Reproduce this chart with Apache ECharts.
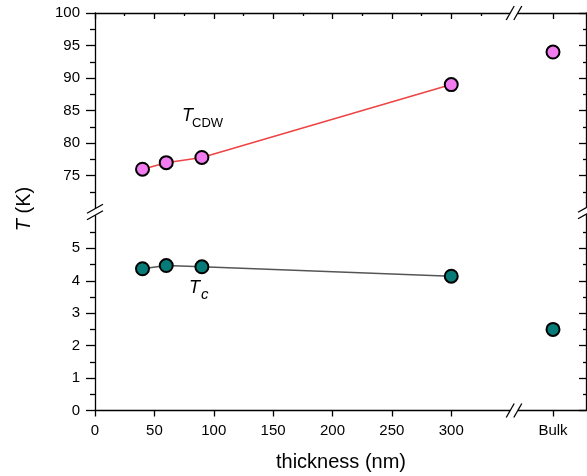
<!DOCTYPE html>
<html>
<head>
<meta charset="utf-8">
<script src="https://cdn.jsdelivr.net/npm/echarts@6/dist/echarts.min.js"></script>
<style>
  html, body { margin: 0; padding: 0; background: #fff; }
  #chart { width: 587px; height: 476px; }
</style>
</head>
<body>
<div id="chart"></div>
<script>
// Film thickness (nm) and transition temperatures (K)
const thickness = [40, 60, 90, 300];
const tCDW = [76.0, 77.0, 77.8, 89.0];
const tC = [4.37, 4.47, 4.43, 4.14];

// Bulk values, drawn on the separate segment after the x-axis break
const bulkLabel = 'Bulk';
const bulkPos = [0];
const bulkTCDW = [94.0];
const bulkTc = [2.5];

// Tick values
const xTickValues = [0, 50, 100, 150, 200, 250, 300];
const xMinorValues = [25, 75, 125, 175, 225, 275, 325];
const yUpperTicks = [75, 80, 85, 90, 95, 100];
const yUpperMinor = [72.5, 77.5, 82.5, 87.5, 92.5, 97.5];
const yLowerTicks = [0, 1, 2, 3, 4, 5];
const yLowerMinor = [0.5, 1.5, 2.5, 3.5, 4.5, 5.5];

// Axis ranges of the four panels
const xFilmRange = [0, 352];
const xBulkRange = [-40, 33];
const yUpperRange = [69.42, 100];
const yLowerRange = [0, 6.12];

// Panel layout in pixels
const L = 95, BX = 513, R = 586, T = 13, BY = 212, B = 410.5;
const FONT = '"Liberation Sans", Arial, sans-serif';
const INK = '#000';

function mkAxis(opt) {
  return {
    type: 'value',
    gridIndex: opt.grid,
    position: opt.position,
    min: opt.range[0],
    max: opt.range[1],
    splitLine: { show: false },
    axisLine: { show: !!opt.line, onZero: false, lineStyle: { color: INK, width: 1.3 } },
    axisTick: opt.ticks ? {
      show: true,
      inside: !!opt.inside,
      length: opt.tickLen,
      customValues: opt.ticks,
      lineStyle: { color: INK, width: 1.3 }
    } : { show: false },
    axisLabel: opt.labels ? {
      show: true,
      customValues: opt.labels,
      formatter: opt.formatter,
      color: INK,
      fontSize: 15,
      fontFamily: FONT,
      margin: opt.margin
    } : { show: false }
  };
}

const xAxis = [
  // film panel, upper: top frame with inward ticks
  mkAxis({ grid: 0, position: 'top', range: xFilmRange, line: true, ticks: xTickValues, tickLen: 6, inside: true }),
  mkAxis({ grid: 0, position: 'top', range: xFilmRange, ticks: xMinorValues, tickLen: 3, inside: true }),
  // film panel, lower: bottom axis with labels
  mkAxis({ grid: 1, position: 'bottom', range: xFilmRange, line: true, ticks: xTickValues, tickLen: 6,
           labels: xTickValues, margin: 13 }),
  // bulk panel, upper and lower
  mkAxis({ grid: 2, position: 'top', range: xBulkRange, line: true, ticks: bulkPos, tickLen: 6, inside: true }),
  mkAxis({ grid: 3, position: 'bottom', range: xBulkRange, line: true, ticks: bulkPos, tickLen: 6,
           labels: bulkPos, formatter: () => bulkLabel, margin: 13 })
];

const yAxis = [
  mkAxis({ grid: 0, position: 'left', range: yUpperRange, line: true, ticks: yUpperTicks, tickLen: 9,
           labels: yUpperTicks, margin: 15 }),
  mkAxis({ grid: 0, position: 'left', range: yUpperRange, ticks: yUpperMinor, tickLen: 5 }),
  mkAxis({ grid: 1, position: 'left', range: yLowerRange, line: true, ticks: yLowerTicks, tickLen: 9,
           labels: yLowerTicks, margin: 15 }),
  mkAxis({ grid: 1, position: 'left', range: yLowerRange, ticks: yLowerMinor, tickLen: 5 }),
  mkAxis({ grid: 2, position: 'right', range: yUpperRange, line: true, ticks: yUpperTicks, tickLen: 7, inside: true }),
  mkAxis({ grid: 2, position: 'right', range: yUpperRange, ticks: yUpperMinor, tickLen: 3, inside: true }),
  mkAxis({ grid: 3, position: 'right', range: yLowerRange, line: true, ticks: yLowerTicks, tickLen: 7, inside: true }),
  mkAxis({ grid: 3, position: 'right', range: yLowerRange, ticks: yLowerMinor, tickLen: 3, inside: true })
];

const marker = (fill) => ({ color: fill, borderColor: INK, borderWidth: 2, opacity: 1 });
const PINK = '#f07cf0';
const TEAL = '#077b78';

const series = [
  {
    name: 'T_CDW', type: 'line', xAxisIndex: 0, yAxisIndex: 0,
    data: thickness.map((t, i) => [t, tCDW[i]]),
    symbol: 'circle', symbolSize: 13,
    lineStyle: { color: '#ee4444', width: 1.6 },
    itemStyle: marker(PINK)
  },
  {
    name: 'T_c', type: 'line', xAxisIndex: 2, yAxisIndex: 2,
    data: thickness.map((t, i) => [t, tC[i]]),
    symbol: 'circle', symbolSize: 13,
    lineStyle: { color: '#555555', width: 1.6 },
    itemStyle: marker(TEAL)
  },
  {
    name: 'T_CDW bulk', type: 'scatter', xAxisIndex: 3, yAxisIndex: 4,
    data: bulkPos.map((p, i) => [p, bulkTCDW[i]]),
    symbol: 'circle', symbolSize: 13,
    itemStyle: marker(PINK)
  },
  {
    name: 'T_c bulk', type: 'scatter', xAxisIndex: 4, yAxisIndex: 6,
    data: bulkPos.map((p, i) => [p, bulkTc[i]]),
    symbol: 'circle', symbolSize: 13,
    itemStyle: marker(TEAL)
  }
];

// "//" break symbols on the frame
function hBreak(cx, cy) {
  const s = 3.8, w = 4, h = 7;
  return [
    { type: 'rect', z: 100, shape: { x: cx - s, y: cy - 2, width: 2 * s, height: 4 }, style: { fill: '#fff' } },
    { type: 'line', z: 101, shape: { x1: cx - s - w, y1: cy + h, x2: cx - s + w, y2: cy - h }, style: { stroke: INK, lineWidth: 1.3 } },
    { type: 'line', z: 101, shape: { x1: cx + s - w, y1: cy + h, x2: cx + s + w, y2: cy - h }, style: { stroke: INK, lineWidth: 1.3 } }
  ];
}
function vBreak(cx, cy) {
  const s = 3.2, w = 8, h = 4.5;
  return [
    { type: 'rect', z: 100, shape: { x: cx - 2, y: cy - s, width: 4, height: 2 * s }, style: { fill: '#fff' } },
    { type: 'line', z: 101, shape: { x1: cx - w, y1: cy - s + h, x2: cx + w, y2: cy - s - h }, style: { stroke: INK, lineWidth: 1.3 } },
    { type: 'line', z: 101, shape: { x1: cx - w, y1: cy + s + h, x2: cx + w, y2: cy + s - h }, style: { stroke: INK, lineWidth: 1.3 } }
  ];
}

function txt(x, y, text, size, italic, extra) {
  return Object.assign({
    type: 'text', z: 50, x: x, y: y,
    style: {
      text: text, fill: INK, fontSize: size, fontFamily: FONT,
      fontStyle: italic ? 'italic' : 'normal',
      align: 'left', verticalAlign: 'middle'
    }
  }, extra || {});
}

const graphic = [].concat(
  hBreak(BX + 1, T), hBreak(BX + 1, B),
  vBreak(L, BY), vBreak(R, BY - 1),
  [
    txt(182, 116, 'T', 18, true),
    txt(192, 123, 'CDW', 13, false),
    txt(189, 288, 'T', 18, true),
    txt(201, 295, 'c', 15, true),
    {
      type: 'text', z: 50, x: 24, y: 209, rotation: Math.PI / 2,
      style: {
        text: '{i|T} (K)', fill: INK, fontSize: 20, fontFamily: FONT,
        align: 'center', verticalAlign: 'middle',
        rich: { i: { fontStyle: 'italic', fontSize: 20, fontFamily: FONT, fill: INK } }
      }
    },
    {
      type: 'text', z: 50, x: 341, y: 462,
      style: {
        text: 'thickness (nm)', fill: INK, fontSize: 20, fontFamily: FONT,
        align: 'center', verticalAlign: 'middle'
      }
    }
  ]
);

const chart = echarts.init(document.getElementById('chart'), null, { renderer: 'canvas' });
chart.setOption({
  backgroundColor: '#fff',
  animation: false,
  grid: [
    { left: L, top: T, width: BX - L, height: BY - T },
    { left: L, top: BY, width: BX - L, height: B - BY },
    { left: BX, top: T, width: R - BX, height: BY - T },
    { left: BX, top: BY, width: R - BX, height: B - BY }
  ],
  xAxis: xAxis,
  yAxis: yAxis,
  series: series,
  graphic: graphic
});
</script>
</body>
</html>
